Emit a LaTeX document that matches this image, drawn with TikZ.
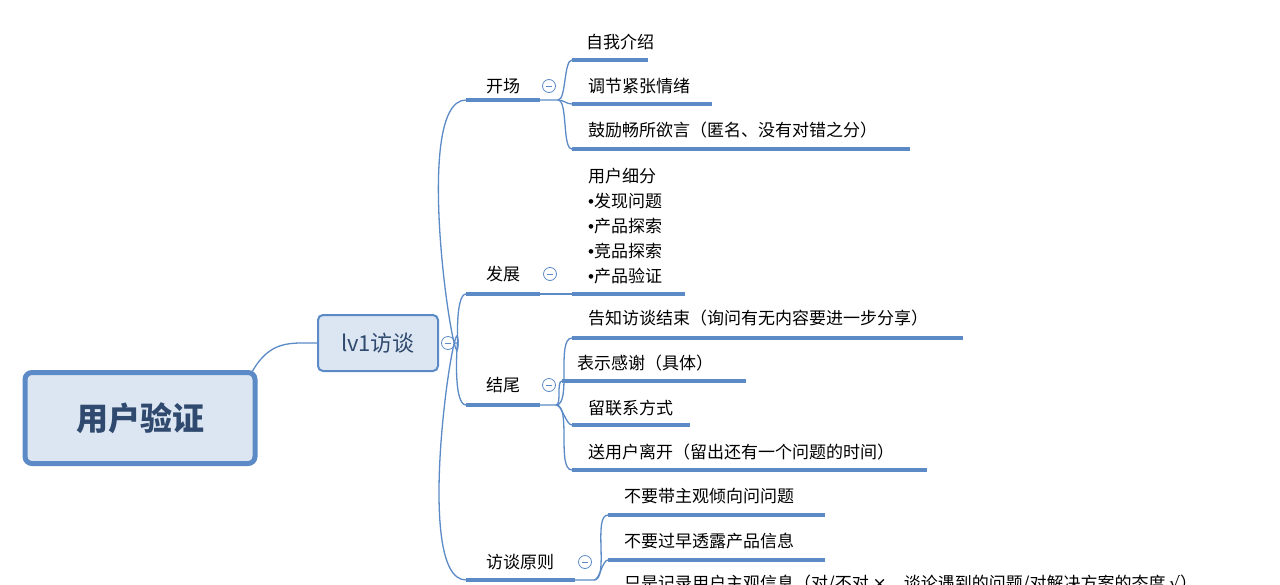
\documentclass[tikz,border=0pt]{standalone}
\usepackage{fontspec}
\setmainfont{Noto Sans CJK SC}
\newfontfamily\symfont{DejaVu Sans}
\newfontfamily\dotfont{Liberation Sans}
\definecolor{mline}{HTML}{5B8AC6}
\definecolor{mfill}{HTML}{DCE6F2}
\definecolor{mtext}{HTML}{2F4A6E}
\begin{document}
\begin{tikzpicture}[x=1pt,y=-1pt,
  item/.style={anchor=west,inner sep=0pt,font=\fontsize{17}{20}\selectfont},
  uline/.style={draw=mline,line width=3.5pt},
  link/.style={draw=mline,line width=1.3pt},
  fold/.style={shape=circle,draw=mline,line width=0.8pt,minimum size=13pt,inner sep=0pt,
    path picture={\draw[mline,line width=0.8pt] ([xshift=-3pt]path picture bounding box.center) -- ([xshift=3pt]path picture bounding box.center);}}]
    \useasboundingbox (0,0) rectangle (1280,584);
    \clip (0,0) rectangle (1280,584);
    % root and first level
    \node[shape=rectangle,rounded corners=7pt,draw=mline,line width=5pt,fill=mfill,minimum width=230pt,minimum height=91pt,text=mtext,font=\fontsize{32}{36}\selectfont\bfseries] (R) at (140,418) {用户验证};
    \node[shape=rectangle,rounded corners=5pt,draw=mline,line width=2pt,fill=mfill,minimum width=120pt,minimum height=56pt,text=mtext,font=\fontsize{22}{26}\selectfont] (L1) at (378,343) {lv1访谈};
    \path[link] (252,372) .. controls (270,340) and (290,343) .. (L1.west);
    \node[fold] (F0) at (448,343) {};
    % second level
    \node[item] (K) at (486,86) {开场};
    \node[item] (D) at (486,274) {发展};
    \node[item] (J) at (486,385) {结尾};
    \node[item] (P) at (486,562) {访谈原则};
    \node[fold] (FK) at (549,86) {};
    \node[fold] (FD) at (550,274) {};
    \node[fold] (FJ) at (549,385) {};
    \node[fold] (FP) at (585,562) {};
    \path[uline] (466,100) -- (540,100);
    \path[uline] (466,294) -- (540,294);
    \path[uline] (466,405) -- (540,405);
    \path[uline] (466,580) -- (575,580);
    \path[link] (F0.east) -- (458,343) to[out=-90,in=180,looseness=0.6] (466,100);
    \path[link] (458,343) to[out=-90,in=180,looseness=0.6] (466,294);
    \path[link] (458,343) to[out=90,in=180,looseness=0.6] (466,405);
    \path[link] (458,343) to[out=90,in=180,looseness=0.6] (466,580);
    % 开场
    \node[item] (K1) at (586,42) {自我介绍};
    \node[item] (K2) at (588,86) {调节紧张情绪};
    \node[item] (K3) at (588,130) {鼓励畅所欲言（匿名、没有对错之分）};
    \path[uline] (572,60) -- (648,60);
    \path[uline] (572,104) -- (712,104);
    \path[uline] (572,149) -- (910,149);
    \path[link] (540,100) -- (558,100) to[out=0,in=180,looseness=0.5] (572,60);
    \path[link] (558,100) to[out=0,in=180] (572,104);
    \path[link] (558,100) to[out=0,in=180,looseness=0.5] (572,149);
    % 发展
    \node[item,align=left,anchor=south west,font=\fontsize{17}{25}\selectfont] (D1) at (588,284) {用户细分\\{\dotfont•}发现问题\\{\dotfont•}产品探索\\{\dotfont•}竞品探索\\{\dotfont•}产品验证};
    \path[uline] (572,294) -- (685,294);
    \path[link] (540,294) -- (572,294);
    % 结尾
    \node[item] (J1) at (588,318) {告知访谈结束（询问有无内容要进一步分享）};
    \node[item] (J2) at (577,363) {表示感谢（具体）};
    \node[item] (J3) at (588,408) {留联系方式};
    \node[item] (J4) at (588,452) {送用户离开（留出还有一个问题的时间）};
    \path[uline] (572,338) -- (963,338);
    \path[uline] (562,381) -- (746,381);
    \path[uline] (572,425) -- (690,425);
    \path[uline] (572,470) -- (927,470);
    \path[link] (540,405) -- (556,405) to[out=0,in=180,looseness=0.6] (572,338);
    \path[link] (556,405) to[out=0,in=180,looseness=0.6] (562,381);
    \path[link] (556,405) to[out=0,in=180,looseness=0.6] (572,425);
    \path[link] (556,405) to[out=0,in=180,looseness=0.6] (572,470);
    % 访谈原则
    \node[item] (P1) at (624,496) {不要带主观倾向问问题};
    \node[item] (P2) at (624,541) {不要过早透露产品信息};
    \node[item] (P3) at (624,584) {只是记录用户主观信息（对/不对 {\symfont ×}，谈论遇到的问题/对解决方案的态度 {\symfont √}）};
    \path[uline] (608,515) -- (825,515);
    \path[uline] (608,560) -- (825,560);
    \path[link] (575,580) -- (594,580) to[out=0,in=180,looseness=0.6] (608,515);
    \path[link] (594,580) to[out=0,in=180,looseness=0.6] (608,560);
\end{tikzpicture}
\end{document}
